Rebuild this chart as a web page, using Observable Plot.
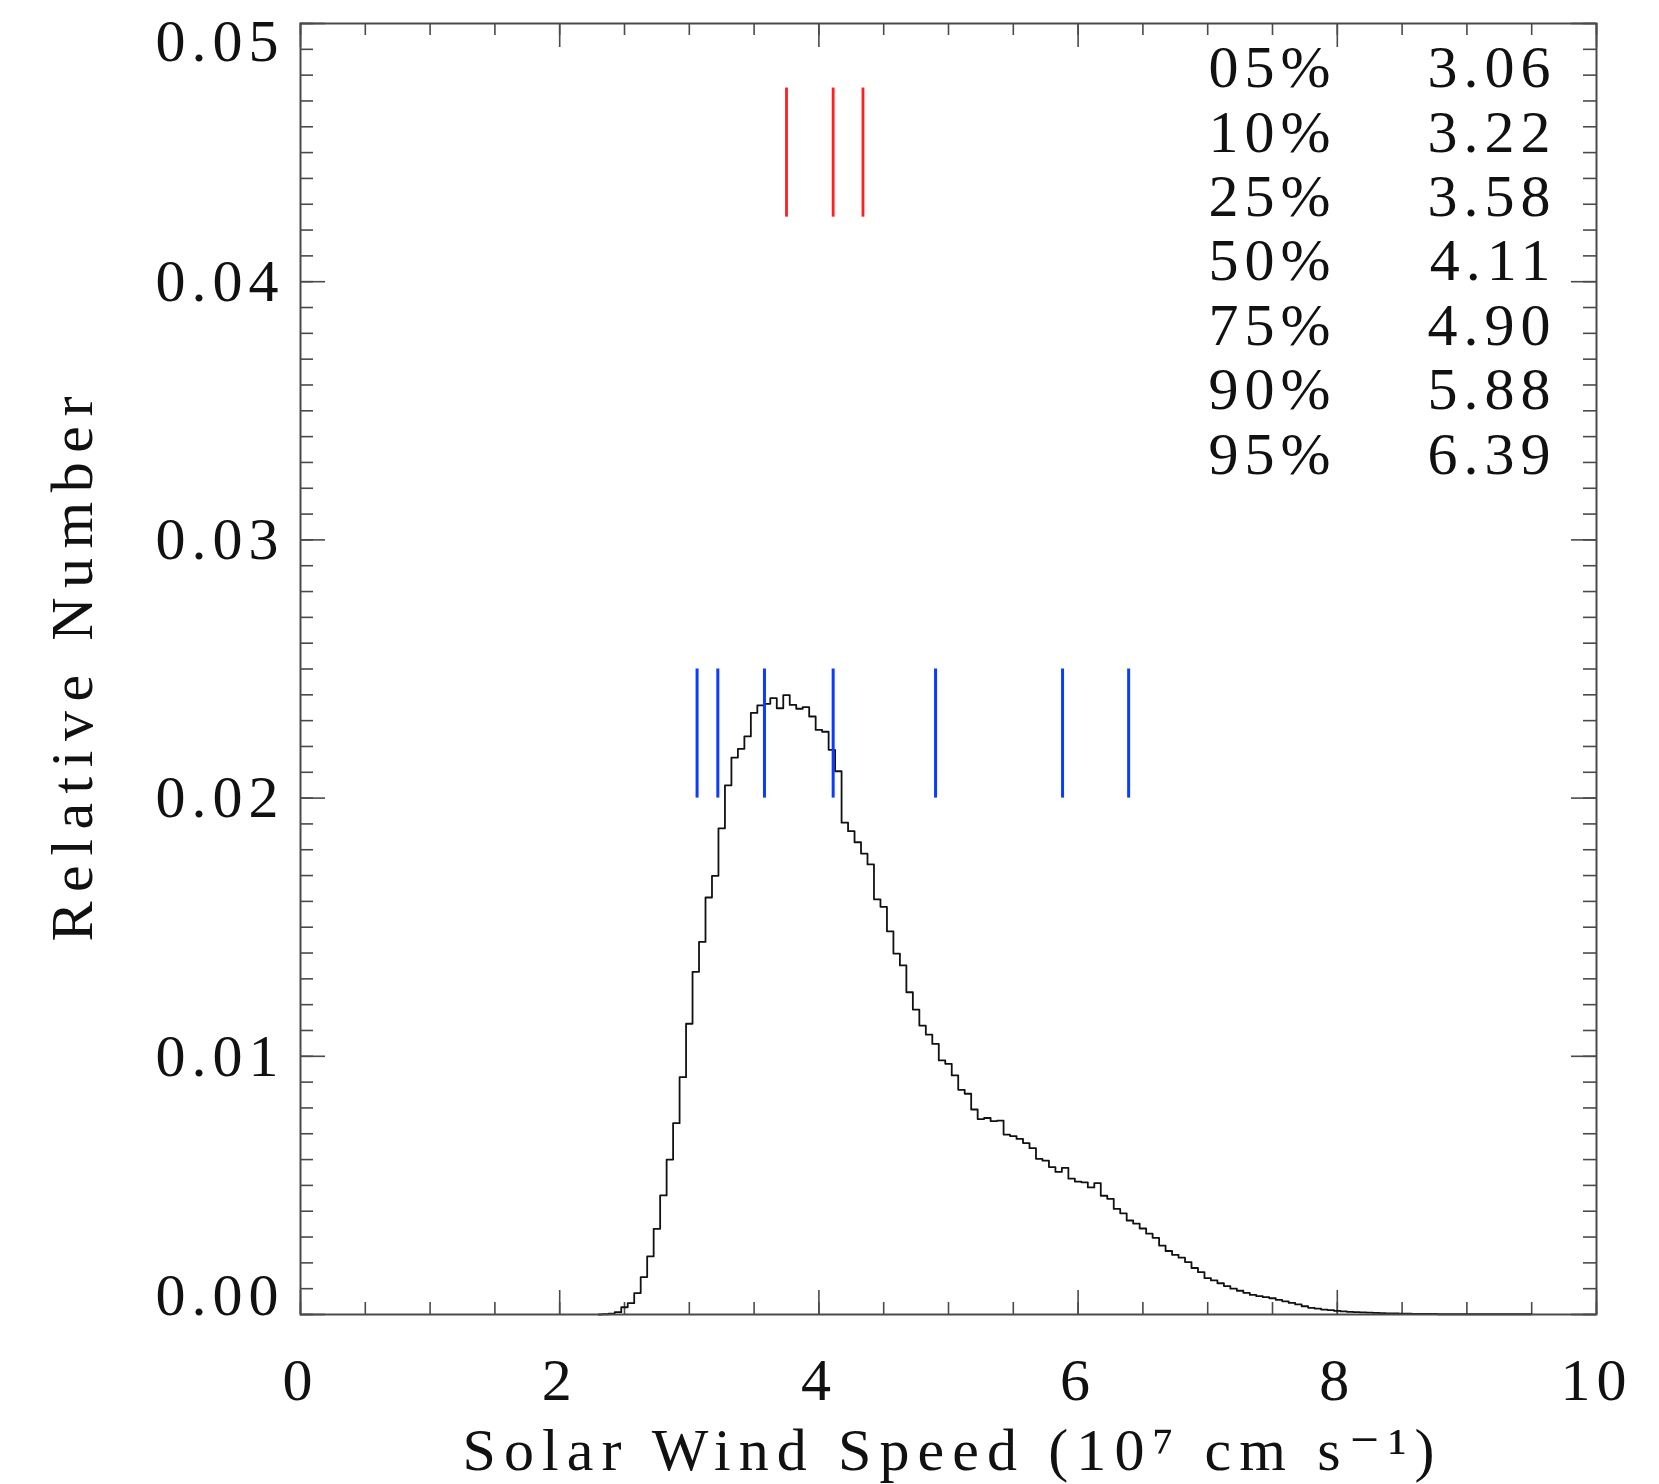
<!DOCTYPE html>
<html>
<head>
<meta charset="utf-8">
<script src="https://cdn.jsdelivr.net/npm/d3@7"></script>
<script src="https://cdn.jsdelivr.net/npm/@observablehq/plot@0.6"></script>
<style>
  html, body { margin: 0; padding: 0; background: #ffffff; }
  #chart svg { display: block; }
</style>
</head>
<body>
<div id="chart"></div>
<script>
// ---- Data ----
// Histogram bin centres (10^7 cm/s) and relative numbers
const speed = [
  2.30, 2.35, 2.40, 2.45, 2.50, 2.55, 2.60, 2.65, 2.70, 2.75,
  2.80, 2.85, 2.90, 2.95, 3.00, 3.05, 3.10, 3.15, 3.20, 3.25,
  3.30, 3.35, 3.40, 3.45, 3.50, 3.55, 3.60, 3.65, 3.70, 3.75,
  3.80, 3.85, 3.90, 3.95, 4.00, 4.05, 4.10, 4.15, 4.20, 4.25,
  4.30, 4.35, 4.40, 4.45, 4.50, 4.55, 4.60, 4.65, 4.70, 4.75,
  4.80, 4.85, 4.90, 4.95, 5.00, 5.05, 5.10, 5.15, 5.20, 5.25,
  5.30, 5.35, 5.40, 5.45, 5.50, 5.55, 5.60, 5.65, 5.70, 5.75,
  5.80, 5.85, 5.90, 5.95, 6.00, 6.05, 6.10, 6.15, 6.20, 6.25,
  6.30, 6.35, 6.40, 6.45, 6.50, 6.55, 6.60, 6.65, 6.70, 6.75,
  6.80, 6.85, 6.90, 6.95, 7.00, 7.05, 7.10, 7.15, 7.20, 7.25,
  7.30, 7.35, 7.40, 7.45, 7.50, 7.55, 7.60, 7.65, 7.70, 7.75,
  7.80, 7.85, 7.90, 7.95, 8.00, 8.05, 8.10, 8.15, 8.20, 8.25,
  8.30, 8.35, 8.40, 8.45, 8.50, 8.55, 8.60, 8.65, 8.70, 8.75,
  8.80, 8.85, 8.90, 8.95, 9.00, 9.05, 9.10, 9.15, 9.20, 9.25,
  9.30, 9.35, 9.40, 9.45, 9.50
];
const relNumber = [
  0.00000, 0.00001, 0.00003, 0.00009, 0.00028, 0.00044, 0.00083, 0.00145, 0.00225, 0.00332,
  0.00461, 0.00600, 0.00741, 0.00919, 0.01126, 0.01327, 0.01443, 0.01615, 0.01699, 0.01883,
  0.02049, 0.02157, 0.02191, 0.02239, 0.02330, 0.02359, 0.02365, 0.02387, 0.02348, 0.02399,
  0.02361, 0.02346, 0.02352, 0.02316, 0.02264, 0.02257, 0.02187, 0.02104, 0.01905, 0.01872,
  0.01829, 0.01785, 0.01743, 0.01608, 0.01579, 0.01484, 0.01398, 0.01352, 0.01248, 0.01181,
  0.01119, 0.01084, 0.01048, 0.00984, 0.00971, 0.00926, 0.00870, 0.00855, 0.00794, 0.00757,
  0.00761, 0.00749, 0.00751, 0.00697, 0.00691, 0.00680, 0.00664, 0.00644, 0.00603, 0.00596,
  0.00571, 0.00552, 0.00568, 0.00526, 0.00515, 0.00512, 0.00492, 0.00509, 0.00460, 0.00448,
  0.00409, 0.00392, 0.00364, 0.00352, 0.00333, 0.00313, 0.00297, 0.00267, 0.00246, 0.00231,
  0.00220, 0.00203, 0.00180, 0.00164, 0.00141, 0.00132, 0.00121, 0.00110, 0.00100, 0.00092,
  0.00084, 0.00076, 0.00071, 0.00067, 0.00063, 0.00057, 0.00051, 0.00045, 0.00039, 0.00032,
  0.00026, 0.00023, 0.00019, 0.00017, 0.00014, 0.00012, 0.00010, 0.00009, 0.00008, 0.00007,
  0.00006, 0.00005, 0.00004, 0.00004, 0.00003, 0.00003, 0.00002, 0.00002, 0.00002, 0.00002,
  0.00001, 0.00001, 0.00001, 0.00001, 0.00001, 0.00001, 0.00001, 0.00001, 0.00001, 0.00001,
  0.00001, 0.00001, 0.00001, 0.00001, 0.00001
];
// Percentiles (blue markers) and the table in the upper right
const percentileLabels = ["05%", "10%", "25%", "50%", "75%", "90%", "95%"];
const percentileValues = [3.06, 3.22, 3.58, 4.11, 4.90, 5.88, 6.39];
const percentileText = ["3.06", "3.22", "3.58", "4.11", "4.90", "5.88", "6.39"];
// Red markers (mode, median, mean)
const centralValues = [3.75, 4.11, 4.34];
// Axis ticks
const xTickLabels = [0, 2, 4, 6, 8, 10];
const yTickLabelsMid = [0.01, 0.02, 0.03, 0.04];
const yTickLabelTop = [0.05];
const yTickLabelBottom = [0.00];
const xTitle = "Solar Wind Speed (10\u2077 cm s\u207B\u00B9)";
const yTitle = "Relative Number";

// ---- Layout ----
const W = 1659, H = 1484;
const mTop = 23, mRight = 63, mBottom = 170, mLeft = 300;
const frameW = W - mLeft - mRight;
const frameH = H - mTop - mBottom;
const axisColor = "#4a4a4a";
const FS = 60;

const bins = speed.map((s, i) => ({speed: s, rel: relNumber[i]}));
const xMinor = d3.range(0, 10.001, 0.5);
const yMinor = d3.range(0, 51).map(i => i / 1000);
const yMajor = [0, 0.01, 0.02, 0.03, 0.04, 0.05];

const tickRules = [
  Plot.ruleX(xMinor, {x: d => d, insetTop: frameH - 12, stroke: axisColor, strokeWidth: 1.6}),
  Plot.ruleX(xMinor, {x: d => d, insetBottom: frameH - 12, stroke: axisColor, strokeWidth: 1.6}),
  Plot.ruleX(xTickLabels, {x: d => d, insetTop: frameH - 24, stroke: axisColor, strokeWidth: 1.6}),
  Plot.ruleX(xTickLabels, {x: d => d, insetBottom: frameH - 24, stroke: axisColor, strokeWidth: 1.6}),
  Plot.ruleY(yMinor, {y: d => d, insetRight: frameW - 13, stroke: axisColor, strokeWidth: 1.6}),
  Plot.ruleY(yMinor, {y: d => d, insetLeft: frameW - 13, stroke: axisColor, strokeWidth: 1.6}),
  Plot.ruleY(yMajor, {y: d => d, insetRight: frameW - 25, stroke: axisColor, strokeWidth: 1.6}),
  Plot.ruleY(yMajor, {y: d => d, insetLeft: frameW - 25, stroke: axisColor, strokeWidth: 1.6})
];

const fmtY = d3.format(".2f");

const chart = Plot.plot({
  width: W,
  height: H,
  marginTop: mTop,
  marginRight: mRight,
  marginBottom: mBottom,
  marginLeft: mLeft,
  style: {fontFamily: "'Liberation Serif', 'DejaVu Serif', serif", color: "#111", background: "#fff"},
  x: {domain: [0, 10], axis: null},
  y: {domain: [0, 0.05], axis: null},
  marks: [
    ...tickRules,
    Plot.line(bins, {x: "speed", y: "rel", curve: "step", stroke: "#111", strokeWidth: 1.8}),
    Plot.ruleX(percentileValues, {x: d => d, y1: 0.020, y2: 0.025, stroke: "#0a3cff", strokeWidth: 3}),
    Plot.ruleX(centralValues, {x: d => d, y1: 0.0425, y2: 0.0475, stroke: "#ff1f1f", strokeWidth: 2.8}),
    Plot.frame({stroke: axisColor, strokeWidth: 2}),
    Plot.axisX(xTickLabels, {tickSize: 0, tickPadding: 43, fontSize: FS, tickFormat: d => String(d), label: null, fill: "#111"}),
    Plot.axisY(yTickLabelsMid, {tickSize: 0, tickPadding: 16, fontSize: FS, tickFormat: fmtY, label: null, fill: "#111"}),
    Plot.axisY(yTickLabelTop, {tickSize: 0, tickPadding: 16, fontSize: FS, tickFormat: fmtY, label: null, dy: 18, fill: "#111"}),
    Plot.axisY(yTickLabelBottom, {tickSize: 0, tickPadding: 16, fontSize: FS, tickFormat: fmtY, label: null, dy: -19, fill: "#111"}),
    Plot.text([xTitle], {text: d => d, frameAnchor: "bottom", textAnchor: "middle", dy: 155, lineAnchor: "bottom", fontSize: FS, fill: "#111"}),
    Plot.text([yTitle], {text: d => d, frameAnchor: "left", textAnchor: "middle", dx: -209, rotate: -90, lineAnchor: "bottom", fontSize: FS, fill: "#111"}),
    Plot.text([percentileLabels.join("\n")], {text: d => d, frameAnchor: "top-right", textAnchor: "start", dx: -388, dy: 18, lineAnchor: "top", lineHeight: 1.0733, fontSize: FS, fill: "#111"}),
    Plot.text([percentileText.join("\n")], {text: d => d, frameAnchor: "top-right", textAnchor: "end", dx: -40, dy: 18, lineAnchor: "top", lineHeight: 1.0733, fontSize: FS, fill: "#111"})
  ]
});

document.getElementById("chart").appendChild(chart);

// typographic spacing similar to the reference
chart.querySelectorAll("text").forEach(t => {
  const s = t.textContent;
  if (s.startsWith("Solar")) {
    t.setAttribute("textLength", 972);
    t.setAttribute("lengthAdjust", "spacing");
  } else if (s.startsWith("Relative")) {
    t.setAttribute("textLength", 545);
    t.setAttribute("lengthAdjust", "spacing");
  } else {
    t.style.letterSpacing = "6px";
  }
});
</script>
</body>
</html>
